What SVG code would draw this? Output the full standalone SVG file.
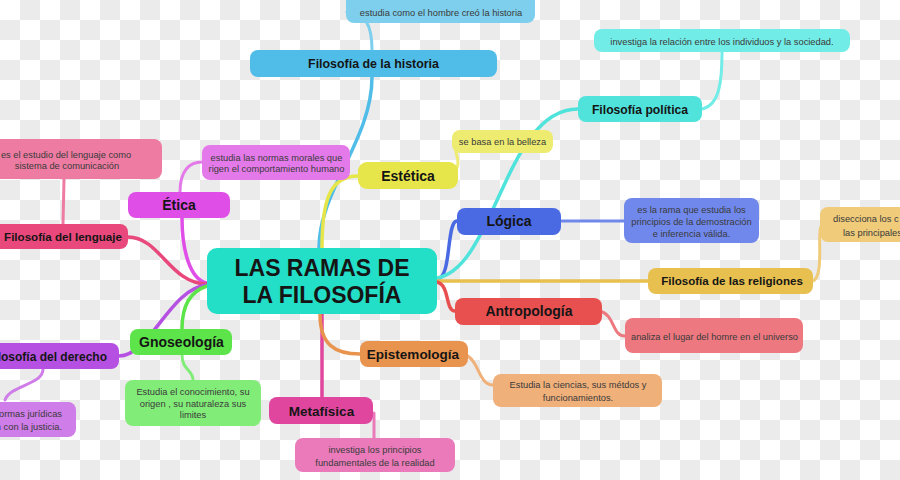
<svg xmlns="http://www.w3.org/2000/svg" width="900" height="480" viewBox="0 0 900 480">
<defs>
<pattern id="cb" width="40" height="40" patternUnits="userSpaceOnUse">
<rect width="40" height="40" fill="#ffffff"/>
<rect x="20" y="0" width="20" height="20" fill="#ebebeb"/>
<rect x="0" y="20" width="20" height="20" fill="#ebebeb"/>
</pattern>
<style>
.c{fill:none;stroke-width:3.5;stroke-linecap:round}
.s{fill:none;stroke-width:3;stroke-linecap:round}
.lb{font-family:"Liberation Sans",Arial,sans-serif;font-weight:bold;fill:#151515;text-anchor:middle}
.nt{font-family:"Liberation Sans",Arial,sans-serif;font-size:9.3px;fill:#3a3a3a;text-anchor:middle}
</style>
</defs>
<rect width="900" height="480" fill="url(#cb)"/>

<g id="connectors">
<path class="c" stroke="#e04ee8" d="M207,283 C190,280 182,250 182,218"/>
<path class="c" stroke="#e8487c" d="M207,284 C170,284 160,237 128,237"/>
<path class="c" stroke="#b650e2" d="M207,285 C170,288 150,356 119,356"/>
<path class="c" stroke="#5ce44a" d="M207,286 C188,292 182,310 182,329"/>
<path class="c" stroke="#50bde8" d="M319,248 C319,190 372,140 372,77"/>
<path class="c" stroke="#e6e64a" d="M322,248 C322,200 330,176 358,176"/>
<path class="c" stroke="#4a6ae4" d="M437,279 C452,279 446,221 457,221"/>
<path class="c" stroke="#50e3dc" d="M437,278 C495,268 505,109 578,109"/>
<path class="c" stroke="#e8c050" d="M437,281 L648,281"/>
<path class="c" stroke="#e85050" d="M437,282 C450,285 445,311 455,311"/>
<path class="c" stroke="#e0469e" d="M322,314 L322,397"/>
<path class="c" stroke="#e8944e" d="M320,314 C320,345 335,354 360,354"/>

<path class="s" stroke="#7ecfee" d="M347,12 C365,12 372,25 372,50"/>
<path class="s" stroke="#72ece6" d="M702,109 C720,105 722,80 722,52"/>
<path class="s" stroke="#eeec70" d="M456,170 C462,160 452,150 456,142"/>
<path class="s" stroke="#7088ec" d="M561,221 L624,221"/>
<path class="s" stroke="#efcb7a" d="M813,281 C825,275 816,230 822,225"/>
<path class="s" stroke="#ee7880" d="M600,311 C615,315 612,336 625,336"/>
<path class="s" stroke="#f0b07a" d="M464,354 C480,360 478,385 493,385"/>
<path class="s" stroke="#ea7aba" d="M374,413 L374,438"/>
<path class="s" stroke="#82ec78" d="M182,355 C182,370 193,370 193,380"/>
<path class="s" stroke="#cf7de8" d="M43,369 C43,385 10,385 5,400"/>
<path class="s" stroke="#ee7ca2" d="M63,224 L64,179"/>
<path class="s" stroke="#e47ae9" d="M180,192 C180,170 190,162 202,162"/>
</g>

<g id="central">
<rect x="207" y="248" width="230" height="66" rx="10" fill="#24dfc7"/>
<text class="lb" x="322" y="276" font-size="23">LAS RAMAS DE</text>
<text class="lb" x="322" y="303" font-size="23">LA FILOSOFÍA</text>
</g>

<g id="historia">
<rect x="250" y="50" width="247" height="27" rx="8" fill="#50bde8"/>
<text class="lb" x="373.5" y="67.5" font-size="12.4">Filosofía de la historia</text>
</g>
<g id="historia-nota">
<rect x="346" y="-8" width="189" height="31" rx="8" fill="#7ecfee"/>
<text class="nt" x="441" y="15.5">estudia como el hombre creó la historia</text>
</g>

<g id="politica">
<rect x="578" y="96" width="124" height="26" rx="8" fill="#50e3dc"/>
<text class="lb" x="640" y="113.5" font-size="12.2">Filosofía política</text>
</g>
<g id="politica-nota">
<rect x="594" y="29" width="256" height="23" rx="8" fill="#72ece6"/>
<text class="nt" x="722" y="44.5">investiga la relación entre los individuos y la sociedad.</text>
</g>

<g id="estetica">
<rect x="358" y="162" width="100" height="27" rx="9" fill="#e6e64a"/>
<text class="lb" x="408" y="181" font-size="14">Estética</text>
</g>
<g id="estetica-nota">
<rect x="452" y="130" width="101" height="23" rx="8" fill="#eeec70"/>
<text class="nt" x="502.5" y="145">se basa en la belleza</text>
</g>

<g id="etica">
<rect x="128" y="192" width="102" height="26" rx="8" fill="#e04ee8"/>
<text class="lb" x="179" y="210" font-size="14">Ética</text>
</g>
<g id="etica-nota">
<rect x="202" y="145" width="148" height="35" rx="8" fill="#e47ae9"/>
<text class="nt" x="276.5" y="160.5">estudia las normas morales que</text>
<text class="nt" x="276.5" y="172">rigen el comportamiento humano</text>
</g>

<g id="lenguaje">
<rect x="-20" y="224" width="148" height="25" rx="8" fill="#e8487c"/>
<text class="lb" x="63" y="241" font-size="11.6">Filosofía del lenguaje</text>
</g>
<g id="lenguaje-nota">
<rect x="-20" y="139" width="182" height="40" rx="8" fill="#ee7ca2"/>
<text class="nt" x="66" y="157.5">es el estudio del lenguaje como</text>
<text class="nt" x="67" y="168.5">sistema de comunicación</text>
</g>

<g id="derecho">
<rect x="-40" y="343" width="159" height="26" rx="8" fill="#b650e2"/>
<text class="lb" x="107" y="360.5" font-size="12" style="text-anchor:end">Filosofía del derecho</text>
</g>
<g id="derecho-nota">
<rect x="-40" y="402" width="116" height="35" rx="8" fill="#cf7de8"/>
<text class="nt" x="62" y="417" style="text-anchor:end">normas jurídicas</text>
<text class="nt" x="62" y="430" style="text-anchor:end">n con la justicia.</text>
</g>

<g id="gnoseologia">
<rect x="130" y="329" width="102" height="26" rx="8" fill="#5ce44a"/>
<text class="lb" x="181.5" y="347" font-size="14">Gnoseología</text>
</g>
<g id="gnoseologia-nota">
<rect x="125" y="380" width="136" height="46" rx="8" fill="#82ec78"/>
<text class="nt" x="193" y="395">Estudia el conocimiento, su</text>
<text class="nt" x="193" y="406.5">origen , su naturaleza sus</text>
<text class="nt" x="193" y="418">limites</text>
</g>

<g id="metafisica">
<rect x="269" y="397" width="104" height="27" rx="8" fill="#e0469e"/>
<text class="lb" x="321.5" y="415.5" font-size="13.5">Metafísica</text>
</g>
<g id="metafisica-nota">
<rect x="295" y="438" width="160" height="34" rx="8" fill="#ea7aba"/>
<text class="nt" x="375" y="453">investiga los principios</text>
<text class="nt" x="375" y="465.5">fundamentales de la realidad</text>
</g>

<g id="epistemologia">
<rect x="360" y="341" width="108" height="26" rx="8" fill="#e8944e"/>
<text class="lb" x="413" y="359" font-size="13.5">Epistemología</text>
</g>
<g id="epistemologia-nota">
<rect x="493" y="374" width="169" height="33" rx="8" fill="#f0b07a"/>
<text class="nt" x="578" y="388">Estudia la ciencias, sus métdos y</text>
<text class="nt" x="578" y="400.5">funcionamientos.</text>
</g>

<g id="antropologia">
<rect x="455" y="298" width="147" height="27" rx="8" fill="#e85050"/>
<text class="lb" x="529" y="316" font-size="14">Antropología</text>
</g>
<g id="antropologia-nota">
<rect x="625" y="318" width="178" height="35" rx="8" fill="#ee7880"/>
<text class="nt" x="714.5" y="339.5">analiza el lugar del homre en el universo</text>
</g>

<g id="religiones">
<rect x="648" y="268" width="165" height="26" rx="8" fill="#e8c050"/>
<text class="lb" x="732" y="285" font-size="11.6">Filosofía de las religiones</text>
</g>
<g id="religiones-nota">
<rect x="820" y="207" width="100" height="35" rx="8" fill="#efcb7a"/>
<text class="nt" x="833" y="222" style="text-anchor:start">disecciona los c</text>
<text class="nt" x="843" y="235.5" style="text-anchor:start">las principales</text>
</g>

<g id="logica">
<rect x="457" y="208" width="104" height="27" rx="8" fill="#4a6ae4"/>
<text class="lb" x="509" y="226" font-size="14">Lógica</text>
</g>
<g id="logica-nota">
<rect x="624" y="198" width="135" height="45" rx="8" fill="#7088ec"/>
<text class="nt" x="691.5" y="213">es la rama que estudia los</text>
<text class="nt" x="691.5" y="225">principios de la demostración</text>
<text class="nt" x="691.5" y="236.5">e inferencia válida.</text>
</g>
</svg>
